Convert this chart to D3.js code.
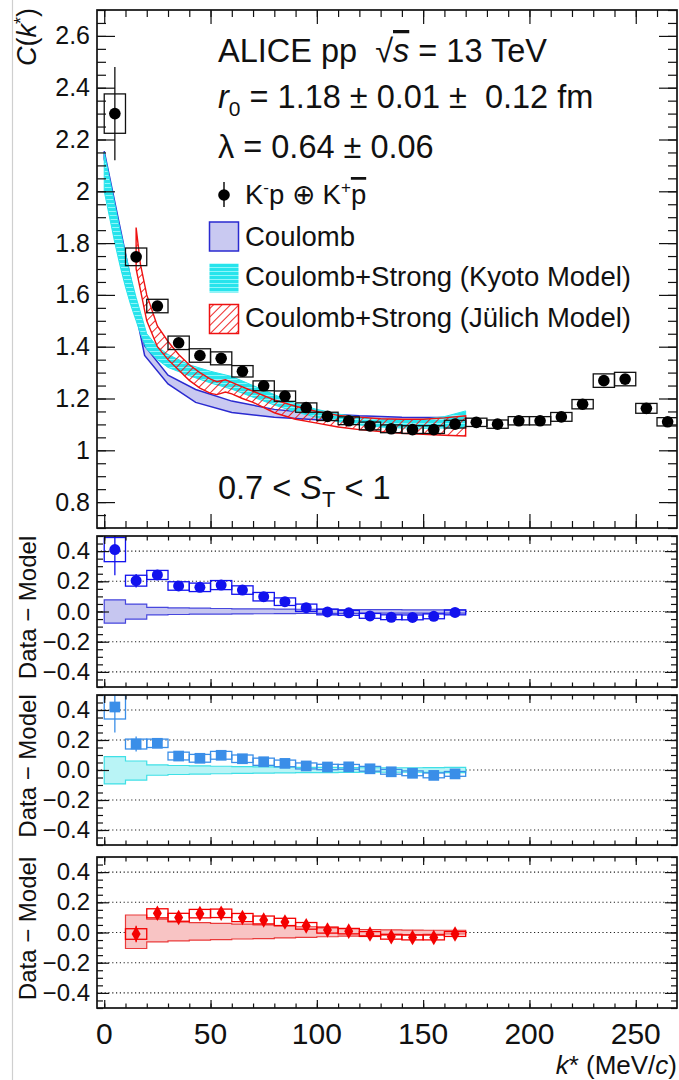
<!DOCTYPE html>
<html><head><meta charset="utf-8">
<script src="https://cdn.jsdelivr.net/npm/d3@7"></script>
<style>
html,body{margin:0;padding:0;background:#fff;}
svg{display:block;font-family:"Liberation Sans",Arial,Helvetica,sans-serif;}
text{white-space:pre;}
</style></head><body>
<svg id="chart" width="679" height="1080"></svg>
<script>
// ---------- K-p correlation function C(k*) ----------
const kBins   = [5,15,25,35,45,55,65,75,85,95,105,115,125,135,145,155,165,175,185,195,205,215,225,235,245,255,265];
const cValues = [2.300,1.747,1.557,1.415,1.366,1.355,1.305,1.249,1.209,1.165,1.131,1.114,1.094,1.083,1.080,1.080,1.101,1.108,1.101,1.114,1.114,1.129,1.178,1.269,1.275,1.162,1.110];
const cStat   = [0.180,0.020,0.012,0.010,0.010,0.009,0.008,0.008,0.007,0.007,0.006,0.006,0.006,0.006,0.006,0.006,0.006,0.006,0.006,0.006,0.006,0.006,0.006,0.007,0.007,0.006,0.006];
const cSyst   = [0.076,0.034,0.026,0.026,0.026,0.025,0.022,0.019,0.020,0.018,0.016,0.015,0.015,0.015,0.015,0.015,0.015,0.016,0.016,0.016,0.016,0.017,0.018,0.026,0.026,0.019,0.016];

// model bands in the top panel (k*, lower edge, upper edge)
const coulombK  = [0,19,30,43,60,80,100,120,140,170];
const coulombLo = [2.125,1.366,1.256,1.185,1.146,1.128,1.118,1.112,1.108,1.105];
const coulombHi = [2.155,1.404,1.290,1.235,1.190,1.158,1.142,1.133,1.128,1.127];

const kyotoK  = [0,2.5,5,7.5,10,12.5,15,17.5,20,25,30,40,50,60,70,80,90,100,110,120,130,140,150,160,170];
const kyotoLo = [2.00,1.90,1.80,1.71,1.63,1.56,1.50,1.44,1.39,1.35,1.32,1.288,1.26,1.236,1.205,1.175,1.148,1.127,1.110,1.098,1.090,1.086,1.085,1.086,1.088];
const kyotoHi = [2.15,2.05,1.95,1.85,1.76,1.67,1.59,1.52,1.45,1.40,1.37,1.33,1.305,1.285,1.25,1.215,1.18,1.158,1.14,1.128,1.12,1.118,1.12,1.13,1.152];

const julichK  = [15,17,20,25,30,35,40,45,50,53,57,60,65,70,80,90,100,110,120,130,140,150,160,170];
const julichLo = [1.70,1.62,1.50,1.40,1.35,1.31,1.27,1.24,1.22,1.215,1.225,1.218,1.20,1.185,1.145,1.12,1.105,1.09,1.08,1.072,1.066,1.062,1.058,1.055];
const julichHi = [1.86,1.72,1.60,1.48,1.42,1.37,1.33,1.30,1.275,1.265,1.272,1.262,1.245,1.228,1.195,1.17,1.15,1.135,1.128,1.122,1.12,1.12,1.125,1.133];

// ---------- Data - Model residuals ----------
const resK = [5,15,25,35,45,55,65,75,85,95,105,115,125,135,145,155,165];
const resCoulomb     = [0.41,0.204,0.242,0.169,0.160,0.175,0.142,0.098,0.065,0.025,-0.003,-0.009,-0.029,-0.038,-0.039,-0.032,-0.006];
const resCoulombStat = [0.17,0.045,0.02,0.015,0.015,0.012,0.012,0.01,0.01,0.01,0.01,0.01,0.01,0.01,0.01,0.01,0.01];
const resCoulombSyst = [0.08,0.036,0.03,0.028,0.028,0.03,0.028,0.028,0.025,0.024,0.019,0.016,0.016,0.016,0.016,0.016,0.016];
const bandCoulombLo  = [-0.077,-0.05,-0.022,-0.02,-0.018,-0.017,-0.016,-0.015,-0.014,-0.013,-0.012,-0.012,-0.011,-0.011,-0.011,-0.011,-0.011];
const bandCoulombHi  = [0.077,0.049,0.027,0.024,0.022,0.02,0.018,0.017,0.016,0.015,0.014,0.013,0.012,0.012,0.011,0.011,0.011];

const resKyoto     = [0.42,0.173,0.178,0.093,0.078,0.098,0.075,0.055,0.044,0.027,0.02,0.021,0.008,-0.012,-0.022,-0.036,-0.026];
const resKyotoStat = [0.17,0.05,0.02,0.015,0.015,0.012,0.012,0.01,0.01,0.01,0.01,0.01,0.01,0.01,0.01,0.01,0.01];
const resKyotoSyst = [0.08,0.033,0.028,0.026,0.026,0.026,0.025,0.024,0.022,0.02,0.018,0.016,0.016,0.016,0.016,0.016,0.016];
const bandKyotoLo  = [-0.093,-0.067,-0.035,-0.03,-0.027,-0.025,-0.023,-0.021,-0.019,-0.018,-0.017,-0.016,-0.015,-0.015,-0.015,-0.016,-0.018];
const bandKyotoHi  = [0.089,0.06,0.034,0.03,0.027,0.025,0.023,0.021,0.019,0.018,0.017,0.016,0.015,0.015,0.015,0.016,0.018];

const resJK         = [15,25,35,45,55,65,75,85,95,105,115,125,135,145,155,165];
const resJulich     = [-0.010,0.127,0.099,0.125,0.127,0.099,0.083,0.070,0.044,0.016,0.009,-0.010,-0.028,-0.033,-0.033,-0.010];
const resJulichStat = [0.055,0.03,0.03,0.03,0.03,0.03,0.028,0.028,0.026,0.025,0.024,0.024,0.024,0.024,0.024,0.024];
const resJulichSyst = [0.035,0.03,0.028,0.028,0.028,0.027,0.026,0.024,0.022,0.02,0.018,0.016,0.016,0.016,0.016,0.016];
const bandJulichLo  = [-0.106,-0.062,-0.055,-0.051,-0.047,-0.043,-0.04,-0.036,-0.032,-0.028,-0.024,-0.02,-0.017,-0.014,-0.012,-0.01];
const bandJulichHi  = [0.116,0.088,0.075,0.066,0.06,0.055,0.05,0.044,0.038,0.03,0.025,0.02,0.018,0.016,0.015,0.015];

// axis tick labels
const xTickLabels   = [0,50,100,150,200,250];
const cTickLabels   = [0.8,1.0,1.2,1.4,1.6,1.8,2.0,2.2,2.4,2.6];
const resTickLabels = [-0.4,-0.2,0.0,0.2,0.4];

// ---------- layout ----------
const svg = d3.select("#chart");
const X0 = 97, X1 = 677;
const x = d3.scaleLinear().domain([-3.4, 269.4]).range([X0, X1]);

const pads = {
  top: {t:10,  b:528,  dom:[0.7,2.7]},
  r1:  {t:536, b:687,  dom:[-0.5,0.5]},
  r2:  {t:695, b:845,  dom:[-0.5,0.5]},
  r3:  {t:857, b:1008, dom:[-0.5,0.5]}
};
for (const [key,p] of Object.entries(pads)) {
  p.y = d3.scaleLinear().domain(p.dom).range([p.b, p.t]);
  svg.append("clipPath").attr("id","clip-"+key)
    .append("rect").attr("x",X0).attr("y",p.t).attr("width",X1-X0).attr("height",p.b-p.t);
}

// fill patterns
const defs = svg.append("defs");
const hatch = defs.append("pattern").attr("id","hatchRed").attr("patternUnits","userSpaceOnUse")
  .attr("width",6).attr("height",6).attr("patternTransform","rotate(45)");
hatch.append("line").attr("x1",0).attr("y1",0).attr("x2",0).attr("y2",6)
  .attr("stroke","#ee1111").attr("stroke-width",1.8);
const stripes = defs.append("pattern").attr("id","stripesCyan").attr("patternUnits","userSpaceOnUse")
  .attr("width",8).attr("height",4);
stripes.append("rect").attr("width",8).attr("height",4).attr("fill","#27e4ec");
stripes.append("rect").attr("y",3).attr("width",8).attr("height",1).attr("fill","#8ff6fa");

// page border line on the left
svg.append("line").attr("x1",12.5).attr("x2",12.5).attr("y1",0).attr("y2",1080)
  .attr("stroke","#cfcfcf").attr("stroke-width",1.2);

// ---------- helpers ----------
function ticks(p, yMinor, yMajor, yMaj, yMin, xMaj, xMin) {
  const g = svg.append("g").attr("class","ticks");
  const strip = s => s.call(a => a.select(".domain").remove());
  const style = s => s.selectAll("line").attr("stroke","#111").attr("stroke-width",1.2);
  const xMinor = d3.range(0, 270, 10);
  g.append("g").attr("transform",`translate(${X0},0)`).call(d3.axisRight(p.y).tickValues(yMinor).tickSize(yMin).tickFormat("")).call(strip).call(style);
  g.append("g").attr("transform",`translate(${X0},0)`).call(d3.axisRight(p.y).tickValues(yMajor).tickSize(yMaj).tickFormat("")).call(strip).call(style);
  g.append("g").attr("transform",`translate(${X1},0)`).call(d3.axisLeft(p.y).tickValues(yMinor).tickSize(yMin).tickFormat("")).call(strip).call(style);
  g.append("g").attr("transform",`translate(${X1},0)`).call(d3.axisLeft(p.y).tickValues(yMajor).tickSize(yMaj).tickFormat("")).call(strip).call(style);
  g.append("g").attr("transform",`translate(0,${p.t})`).call(d3.axisBottom(x).tickValues(xMinor).tickSize(xMin).tickFormat("")).call(strip).call(style);
  g.append("g").attr("transform",`translate(0,${p.t})`).call(d3.axisBottom(x).tickValues(xTickLabels).tickSize(xMaj).tickFormat("")).call(strip).call(style);
  g.append("g").attr("transform",`translate(0,${p.b})`).call(d3.axisTop(x).tickValues(xMinor).tickSize(xMin).tickFormat("")).call(strip).call(style);
  g.append("g").attr("transform",`translate(0,${p.b})`).call(d3.axisTop(x).tickValues(xTickLabels).tickSize(xMaj).tickFormat("")).call(strip).call(style);
  svg.append("rect").attr("x",X0).attr("y",p.t).attr("width",X1-X0).attr("height",p.b-p.t)
    .attr("fill","none").attr("stroke","#111").attr("stroke-width",1.7);
}

function yLabels(p, values, fmt, size) {
  const g = svg.append("g").attr("transform",`translate(${X0},0)`)
    .call(d3.axisLeft(p.y).tickValues(values).tickSize(0).tickPadding(7).tickFormat(fmt));
  g.select(".domain").remove();
  g.selectAll("text").attr("font-size",size).attr("font-family","Liberation Sans, Arial, sans-serif").attr("fill","#111");
}

function stepBand(ks, lo, hi) {
  const pts = [];
  ks.forEach((k,i) => { pts.push({k:k-5, lo:lo[i], hi:hi[i]}); pts.push({k:k+5, lo:lo[i], hi:hi[i]}); });
  return pts;
}

// ---------- top panel ----------
const P = pads.top;
const gTop = svg.append("g").attr("clip-path","url(#clip-top)");
const bandArea = d3.area().x(d=>x(d.k)).y0(d=>P.y(d.lo)).y1(d=>P.y(d.hi));
const zipBand = (ks,lo,hi) => ks.map((k,i)=>({k, lo:lo[i], hi:hi[i]}));

gTop.append("path").datum(zipBand(coulombK,coulombLo,coulombHi)).attr("d",bandArea)
  .attr("fill","#c9c9f1").attr("stroke","#2a2ad0").attr("stroke-width",1.5);
gTop.append("path").datum(zipBand(kyotoK,kyotoLo,kyotoHi)).attr("d",bandArea)
  .attr("fill","url(#stripesCyan)").attr("stroke","#27e4ec").attr("stroke-width",1);
gTop.append("path").datum(zipBand(julichK,julichLo,julichHi)).attr("d",bandArea)
  .attr("fill","url(#hatchRed)").attr("stroke","#ee1111").attr("stroke-width",1.4);

const topData = kBins.map((k,i)=>({k, v:cValues[i], e:cStat[i], s:cSyst[i]}));
gTop.selectAll("rect.syst").data(topData).join("rect").attr("class","syst")
  .attr("x",d=>x(d.k-5)).attr("width",d=>x(d.k+5)-x(d.k-5))
  .attr("y",d=>P.y(d.v+d.s)).attr("height",d=>P.y(d.v-d.s)-P.y(d.v+d.s))
  .attr("fill","none").attr("stroke","#111").attr("stroke-width",1.3);
gTop.selectAll("line.stat").data(topData).join("line").attr("class","stat")
  .attr("x1",d=>x(d.k)).attr("x2",d=>x(d.k)).attr("y1",d=>P.y(d.v-d.e)).attr("y2",d=>P.y(d.v+d.e))
  .attr("stroke","#111").attr("stroke-width",1.3);
gTop.selectAll("circle.pt").data(topData).join("circle").attr("class","pt")
  .attr("cx",d=>x(d.k)).attr("cy",d=>P.y(d.v)).attr("r",5.8).attr("fill","#000");

ticks(P, d3.range(0.7,2.7001,0.05), cTickLabels, 18, 9, 14, 7);
yLabels(P, cTickLabels, d=>String(+d.toFixed(1)), 25);

// ---------- residual panels ----------
const resFmt = d3.format(".1f");
function residualPanel(p, key, ks, vals, stat, syst, bLo, bHi, color, bandFill, bandStroke, marker) {
  svg.append("g").selectAll("line").data(resTickLabels).join("line")
    .attr("x1",X0).attr("x2",X1).attr("y1",d=>p.y(d)).attr("y2",d=>p.y(d))
    .attr("stroke","#222").attr("stroke-width",1.1).attr("stroke-dasharray","1.2,2.6");
  const g = svg.append("g").attr("clip-path",`url(#clip-${key})`);
  const a = d3.area().x(d=>x(d.k)).y0(d=>p.y(d.lo)).y1(d=>p.y(d.hi));
  g.append("path").datum(stepBand(ks,bLo,bHi)).attr("d",a)
    .attr("fill",bandFill).attr("stroke",bandStroke).attr("stroke-width",1.2);
  const data = ks.map((k,i)=>({k, v:vals[i], e:stat[i], s:syst[i]}));
  g.selectAll("rect.syst").data(data).join("rect").attr("class","syst")
    .attr("x",d=>x(d.k-5)).attr("width",d=>x(d.k+5)-x(d.k-5))
    .attr("y",d=>p.y(d.v+d.s)).attr("height",d=>p.y(d.v-d.s)-p.y(d.v+d.s))
    .attr("fill","none").attr("stroke",color).attr("stroke-width",1.3);
  g.selectAll("line.stat").data(data).join("line").attr("class","stat")
    .attr("x1",d=>x(d.k)).attr("x2",d=>x(d.k)).attr("y1",d=>p.y(d.v-d.e)).attr("y2",d=>p.y(d.v+d.e))
    .attr("stroke",color).attr("stroke-width",1.3);
  g.selectAll("path.pt").data(data).join("path").attr("class","pt")
    .attr("transform",d=>`translate(${x(d.k)},${p.y(d.v)})`)
    .attr("d",d3.symbol(marker.type, marker.size)).attr("fill",color);
  ticks(p, d3.range(-0.5,0.5001,0.05), resTickLabels, 12, 6, 8, 4.5);
  yLabels(p, resTickLabels, resFmt, 24);
  svg.append("text").attr("transform",`translate(36,${(p.t+p.b)/2-4}) rotate(-90)`)
    .attr("text-anchor","middle").attr("font-size",24).attr("fill","#111").text("Data − Model");
}

residualPanel(pads.r1,"r1",resK,resCoulomb,resCoulombStat,resCoulombSyst,bandCoulombLo,bandCoulombHi,
  "#1212ee","#c6c6f0","#4646dd",{type:d3.symbolCircle,size:95});
residualPanel(pads.r2,"r2",resK,resKyoto,resKyotoStat,resKyotoSyst,bandKyotoLo,bandKyotoHi,
  "#3a8ee8","#b9f4f6","#3fe0e6",{type:d3.symbolSquare,size:115});
residualPanel(pads.r3,"r3",resJK,resJulich,resJulichStat,resJulichSyst,bandJulichLo,bandJulichHi,
  "#f40000","#f8c4c4","#ea3a3a",{type:d3.symbolDiamond,size:70});

// x tick labels and title
svg.append("g").selectAll("text").data(xTickLabels).join("text")
  .attr("x",d=>x(d)).attr("y",1044).attr("text-anchor","middle")
  .attr("font-size",30).attr("fill","#111").text(d=>d);
const xt = svg.append("text").attr("x",677).attr("y",1074).attr("text-anchor","end")
  .attr("font-size",26).attr("fill","#111");
xt.append("tspan").attr("font-style","italic").text("k");
xt.append("tspan").text("* (MeV/");
xt.append("tspan").attr("font-style","italic").text("c");
xt.append("tspan").text(")");

// y title of the top panel
const yt = svg.append("text").attr("transform","translate(36,8) rotate(-90)").attr("text-anchor","end")
  .attr("font-size",27).attr("fill","#111");
yt.append("tspan").attr("font-style","italic").text("C");
yt.append("tspan").text("(");
yt.append("tspan").attr("font-style","italic").text("k");
yt.append("tspan").attr("font-size",18).attr("dy",-9).text("*");
yt.append("tspan").attr("dy",9).text(")");

// ---------- annotations ----------
const t1 = svg.append("text").attr("x",218).attr("y",62).attr("font-size",32.5).attr("fill","#111");
t1.append("tspan").text("ALICE pp  √");
t1.append("tspan").attr("font-style","italic").attr("text-decoration","overline").text("s");
t1.append("tspan").text(" = 13 TeV");

const t2 = svg.append("text").attr("x",218).attr("y",108).attr("font-size",32.5).attr("fill","#111");
t2.append("tspan").attr("font-style","italic").text("r");
t2.append("tspan").attr("font-size",21).attr("dy",8).text("0");
t2.append("tspan").attr("dy",-8).text(" = 1.18 ± 0.01 ±  0.12 fm");

svg.append("text").attr("x",218).attr("y",158).attr("font-size",32.5).attr("fill","#111")
  .text("λ = 0.64 ± 0.06");

const t4 = svg.append("text").attr("x",218).attr("y",499).attr("font-size",32.5).attr("fill","#111");
t4.append("tspan").text("0.7 < ");
t4.append("tspan").attr("font-style","italic").text("S");
t4.append("tspan").attr("font-size",22).attr("dy",8).text("T");
t4.append("tspan").attr("dy",-8).text(" < 1");

// legend
const lg = svg.append("g");
lg.append("line").attr("x1",224).attr("x2",224).attr("y1",182).attr("y2",207).attr("stroke","#000").attr("stroke-width",1.4);
lg.append("circle").attr("cx",224).attr("cy",195).attr("r",5.8).attr("fill","#000");
const l1 = lg.append("text").attr("x",245).attr("y",204).attr("font-size",27.5).attr("fill","#111");
l1.append("tspan").text("K");
l1.append("tspan").attr("font-size",17).attr("dy",-11).text("-");
l1.append("tspan").attr("dy",11).text("p ⊕ K");
l1.append("tspan").attr("font-size",17).attr("dy",-11).text("+");
l1.append("tspan").attr("dy",11).attr("text-decoration","overline").text("p");

lg.append("rect").attr("x",209.5).attr("y",222).attr("width",29).attr("height",29)
  .attr("fill","#c9c9f1").attr("stroke","#2a2ad0").attr("stroke-width",1.5);
lg.append("text").attr("x",245).attr("y",246).attr("font-size",27.5).attr("fill","#111").text("Coulomb");
lg.append("rect").attr("x",209.5).attr("y",263.5).attr("width",29).attr("height",29)
  .attr("fill","url(#stripesCyan)");
lg.append("text").attr("x",245).attr("y",286).attr("font-size",27.5).attr("fill","#111").text("Coulomb+Strong (Kyoto Model)");
lg.append("rect").attr("x",209.5).attr("y",304.5).attr("width",29).attr("height",29)
  .attr("fill","url(#hatchRed)").attr("stroke","#ee1111").attr("stroke-width",1.5);
lg.append("text").attr("x",245).attr("y",327).attr("font-size",27.5).attr("fill","#111").text("Coulomb+Strong (Jülich Model)");
</script></body></html>
